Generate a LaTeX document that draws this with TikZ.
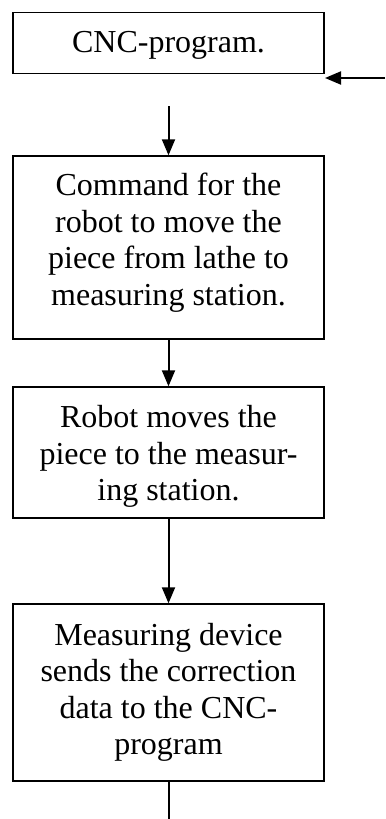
\documentclass[tikz,border=0pt]{standalone}
\usepackage{fontspec}
\setmainfont{Liberation Serif}
\usetikzlibrary{arrows.meta}
\begin{document}
\begin{tikzpicture}[x=1bp,y=-1bp,
  box/.style={draw, line width=1.4bp, minimum width=311bp, inner sep=0pt},
  txt/.style={align=center, font=\fontsize{32bp}{36.5bp}\selectfont, inner sep=0pt, anchor=base},
  arr/.style={line width=2bp, -{Triangle[length=16bp,width=13bp]}},
  link/.style={line width=2bp}]
  \useasboundingbox (0,0) rectangle (385,819);

  % process boxes
  \node[box, minimum height=61bp]  (b1) at (168.5,42.75) {};
  \node[box, minimum height=183bp] (b2) at (168.5,247.5) {};
  \node[box, minimum height=131bp] (b3) at (168.5,452.5) {};
  \node[box, minimum height=177bp] (b4) at (168.5,692.5) {};

  % box texts (anchored at the baseline of the last line)
  \node[txt] (t1) at (168.5,53)  {CNC-program.};
  \node[txt] (t2) at (168.5,305) {Command for the\\robot to move the\\piece from lathe to\\measuring station.};
  \node[txt] (t3) at (168.5,500.5) {Robot moves the\\piece to the measur-\\ing station.};
  \node[txt] (t4) at (168.5,754.5) {Measuring device\\sends the correction\\data to the CNC-\\program};

  % free ends of the connectors
  \coordinate (fbin)  at (385,78);
  \coordinate (fbout) at (325,78);
  \coordinate (start) at (168.5,106);
  \coordinate (tail)  at (168.5,819);

  % connectors
  \draw[arr] (fbin) -- (fbout);
  \draw[arr] (start) -- (b2.north);
  \draw[arr] (b2.south) -- (b3.north);
  \draw[arr] (b3.south) -- (b4.north);
  \draw[link] (b4.south) -- (tail);
\end{tikzpicture}
\end{document}
